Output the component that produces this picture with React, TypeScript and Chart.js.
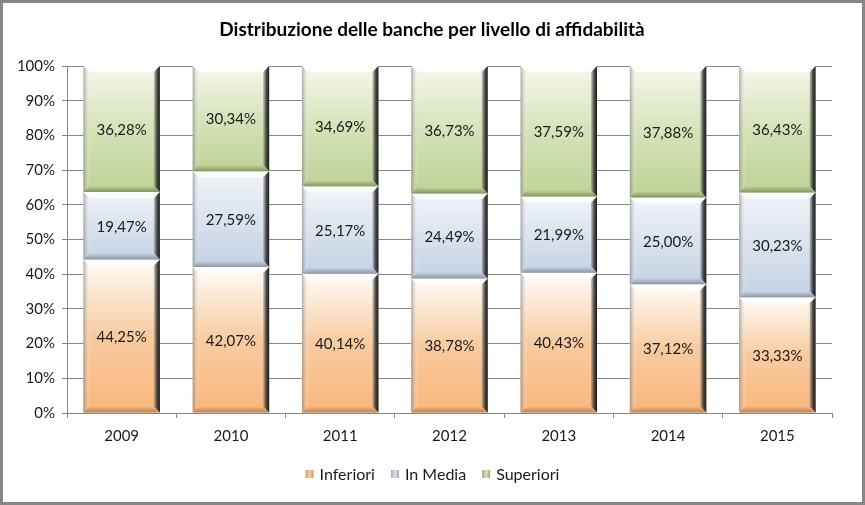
import React, { useEffect, useRef } from "react";
import { Chart, registerables } from "chart.js";

Chart.register(...registerables);

const years = ["2009", "2010", "2011", "2012", "2013", "2014", "2015"];
const inferiori = [44.25, 42.07, 40.14, 38.78, 40.43, 37.12, 33.33];
const inMedia = [19.47, 27.59, 25.17, 24.49, 21.99, 25.0, 30.23];
const superiori = [36.28, 30.34, 34.69, 36.73, 37.59, 37.88, 36.43];
const seriesNames = ["Inferiori", "In Media", "Superiori"];
const yTicks = [0, 10, 20, 30, 40, 50, 60, 70, 80, 90, 100];
const titleText = "Distribuzione delle banche per livello di affidabilità";

const FONT = "Lato, 'Open Sans', sans-serif";

const palettes = [
  { top: "rgb(255,252,248)", mid: "rgb(248,203,160)", bot: "rgb(250,182,125)", edge: "rgb(190,130,85)", legend: "rgb(214,150,100)" },
  { top: "rgb(242,245,250)", mid: "rgb(218,226,237)", bot: "rgb(196,210,228)", edge: "rgb(140,150,165)", legend: "rgb(160,170,190)" },
  { top: "rgb(246,249,236)", mid: "rgb(214,226,186)", bot: "rgb(190,210,150)", edge: "rgb(130,150,95)", legend: "rgb(150,175,110)" },
];

const fmt = (v: number) => v.toFixed(2).replace(".", ",") + "%";

const bevelPlugin = {
  id: "bevelBars",
  beforeDraw(chart: any) {
    const { ctx, width, height } = chart;
    ctx.save();
    ctx.fillStyle = "#ffffff";
    ctx.fillRect(0, 0, width, height);
    ctx.restore();
  },
  afterDatasetsDraw(chart: any) {
    const ctx = chart.ctx;
    chart.data.datasets.forEach((ds: any, di: number) => {
      const meta = chart.getDatasetMeta(di);
      const pal = palettes[di];
      meta.data.forEach((el: any, i: number) => {
        const p = el.getProps(["x", "y", "base", "width"], true);
        const l = p.x - p.width / 2;
        const r = p.x + p.width / 2;
        const t = Math.min(p.y, p.base);
        const b = Math.max(p.y, p.base);
        const h = b - t;
        const bv = 6;
        ctx.save();
        const g = ctx.createLinearGradient(0, t, 0, b);
        g.addColorStop(0, pal.top);
        g.addColorStop(0.5, pal.mid);
        g.addColorStop(1, pal.bot);
        ctx.fillStyle = g;
        ctx.fillRect(l, t, p.width, h);
        ctx.beginPath();
        ctx.moveTo(l, t);
        ctx.lineTo(r, t);
        ctx.lineTo(r - bv, t + bv);
        ctx.lineTo(l + bv, t + bv);
        ctx.closePath();
        ctx.fillStyle = "rgba(255,255,255,0.75)";
        ctx.fill();
        ctx.beginPath();
        ctx.moveTo(l, t);
        ctx.lineTo(l + bv, t + bv);
        ctx.lineTo(l + bv, b - bv);
        ctx.lineTo(l, b);
        ctx.closePath();
        const gl = ctx.createLinearGradient(l, 0, l + bv, 0);
        gl.addColorStop(0, "rgba(110,110,110,0.55)");
        gl.addColorStop(1, "rgba(255,255,255,0.15)");
        ctx.fillStyle = gl;
        ctx.fill();
        ctx.beginPath();
        ctx.moveTo(r, t);
        ctx.lineTo(r, b);
        ctx.lineTo(r - bv, b - bv);
        ctx.lineTo(r - bv, t + bv);
        ctx.closePath();
        const gr = ctx.createLinearGradient(r - bv, 0, r, 0);
        gr.addColorStop(0, "rgba(90,90,90,0.3)");
        gr.addColorStop(0.5, "rgba(40,40,40,0.8)");
        gr.addColorStop(1, "rgba(15,15,15,0.95)");
        ctx.fillStyle = gr;
        ctx.fill();
        ctx.beginPath();
        ctx.moveTo(l, b);
        ctx.lineTo(r, b);
        ctx.lineTo(r - bv, b - bv);
        ctx.lineTo(l + bv, b - bv);
        ctx.closePath();
        const gb = ctx.createLinearGradient(0, b - bv, 0, b);
        gb.addColorStop(0, pal.bot);
        gb.addColorStop(1, pal.edge);
        ctx.fillStyle = gb;
        ctx.fill();
        ctx.fillStyle = "#1a1a1a";
        ctx.font = "15px " + FONT;
        ctx.textAlign = "center";
        ctx.textBaseline = "middle";
        ctx.fillText(fmt(ds.data[i]), p.x, (t + b) / 2 + 1);
        ctx.restore();
      });
    });
  },
  afterDraw(chart: any) {
    const ctx = chart.ctx;
    const { width, height } = chart;
    ctx.save();
    ctx.fillStyle = "#000000";
    ctx.font = "bold 19px " + FONT;
    ctx.textAlign = "center";
    ctx.textBaseline = "middle";
    ctx.fillText(titleText, 432, 30);
    ctx.font = "16px " + FONT;
    ctx.textBaseline = "middle";
    ctx.textAlign = "left";
    const ly = 474;
    const gap = 16;
    const widths = seriesNames.map((n) => 8 + 6 + ctx.measureText(n).width);
    const total = widths.reduce((a, c) => a + c, 0) + gap * (seriesNames.length - 1);
    let x = width / 2 - total / 2;
    seriesNames.forEach((n, k) => {
      const pal = palettes[k];
      const g = ctx.createLinearGradient(x, 0, x + 8, 0);
      g.addColorStop(0, pal.legend);
      g.addColorStop(0.5, pal.mid);
      g.addColorStop(1, pal.legend);
      ctx.fillStyle = g;
      ctx.fillRect(x, ly - 4, 8, 8);
      ctx.fillStyle = "#1a1a1a";
      ctx.fillText(n, x + 14, ly + 1);
      x += widths[k] + gap;
    });
    ctx.strokeStyle = "#878787";
    ctx.lineWidth = 3;
    ctx.strokeRect(1.5, 1.5, width - 3, height - 3);
    ctx.restore();
  },
};

export default function App() {
  const ref = useRef<HTMLCanvasElement | null>(null);
  useEffect(() => {
    if (!ref.current) return;
    const mk = (label: string, data: number[]) => ({
      label,
      data,
      backgroundColor: "rgba(0,0,0,0)",
      borderWidth: 0,
      barPercentage: 1,
      categoryPercentage: 0.7,
    });
    const chart = new Chart(ref.current, {
      type: "bar",
      data: {
        labels: years,
        datasets: [mk(seriesNames[0], inferiori), mk(seriesNames[1], inMedia), mk(seriesNames[2], superiori)],
      },
      options: {
        animation: false,
        responsive: false,
        devicePixelRatio: 1,
        layout: { padding: { left: 10, right: 33, top: 66, bottom: 0 } },
        plugins: { legend: { display: false }, title: { display: false }, tooltip: { enabled: false } },
        scales: {
          x: {
            stacked: true,
            grid: { display: true, drawOnChartArea: false, drawTicks: true, tickLength: 5, color: "#868686", offset: true },
            border: { display: true, color: "#868686" },
            ticks: { color: "#1a1a1a", font: { family: FONT, size: 15 }, padding: 9 },
            afterFit: (s: any) => { s.height = 92; },
          },
          y: {
            stacked: true,
            min: 0,
            max: 100,
            afterBuildTicks: (s: any) => { s.ticks = yTicks.map((v) => ({ value: v })); },
            grid: { color: "#868686", tickLength: 5 },
            border: { display: true, color: "#868686" },
            ticks: { color: "#1a1a1a", font: { family: FONT, size: 15 }, padding: 7, callback: (v: any) => v + "%" },
            afterFit: (s: any) => { s.width = 57; },
          },
        },
      },
      plugins: [bevelPlugin],
    });
    return () => chart.destroy();
  }, []);
  return (
    <div style={{ position: "absolute", left: 0, top: 0, width: 865, height: 505 }}>
      <canvas ref={ref} width={865} height={505} style={{ width: 865, height: 505 }} />
    </div>
  );
}
